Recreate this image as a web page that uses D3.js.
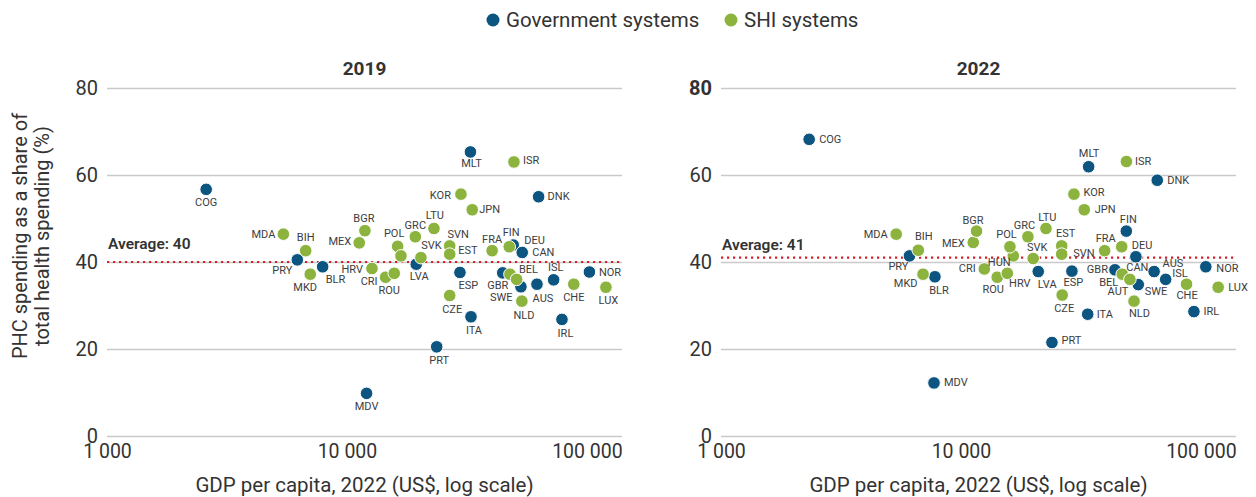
<!DOCTYPE html>
<html>
<head>
<meta charset="utf-8">
<script src="https://cdn.jsdelivr.net/npm/d3@7"></script>
<style>
  html, body { margin: 0; padding: 0; background: #ffffff; }
  svg { display: block; font-family: Roboto, "DejaVu Sans", sans-serif; }
</style>
</head>
<body>
<svg id="chart" width="1256" height="497"></svg>
<script>
// ---- Data: 2019 panel ----
const countries2019 = ["COG","MDA","BIH","PRY","BLR","MKD","MEX","BGR","MLT","ISR","KOR","DNK","JPN","LTU","GRC","POL","SVN","FIN","DEU","CAN","FRA","EST","SVK","HUN","LVA","HRV","CRI","ROU","ESP","CZE","ITA","PRT","MDV","GBR","BEL","AUT","SWE","NLD","AUS","ISL","CHE","NOR","LUX","IRL"];
const gdp2019 = [2590,5430,6730,6210,7920,7030,11250,11880,32700,49650,29850,62900,33260,23040,19270,16260,26800,49300,47450,53750,40260,26800,20330,16790,19440,12710,14490,15740,29570,26800,32870,23660,12070,44580,47790,50930,53080,53570,61910,72660,88140,102400,120000,78700];
const phc2019 = [56.7,46.4,42.6,40.5,38.9,37.2,44.4,47.2,65.3,63.0,55.6,55.0,52.0,47.7,45.8,43.6,43.7,43.9,43.5,42.2,42.6,41.8,41.0,41.4,39.5,38.5,36.5,37.4,37.6,32.3,27.4,20.5,9.8,37.5,37.2,36.0,34.3,31.0,34.9,35.9,34.9,37.7,34.2,26.8];
const system2019 = ["G","S","S","G","G","S","S","S","G","S","S","G","S","S","S","S","S","G","S","G","S","S","S","S","G","S","S","S","G","S","G","G","G","G","S","S","G","S","G","G","S","G","S","G"];
const average2019 = 40;

// ---- Data: 2022 panel ----
const countries2022 = ["COG","MDA","BIH","PRY","MKD","BLR","MEX","BGR","CRI","ROU","HRV","HUN","POL","LVA","SVK","ESP","CZE","ITA","PRT","EST","SVN","MLT","ISR","DNK","KOR","JPN","LTU","GRC","FIN","FRA","DEU","CAN","GBR","BEL","AUT","SWE","NLD","AUS","ISL","CHE","NOR","LUX","IRL","MDV"];
const gdp2022 = [2330,5370,6640,6100,6950,7790,11250,11610,12510,14160,15600,16520,16000,20990,20000,29000,26410,33740,23940,26290,26290,34040,48920,65770,29570,32640,22600,19010,48860,39700,46760,53570,43820,47000,50580,54810,52620,63810,71290,87100,104800,118000,93500,7720];
const phc2022 = [68.2,46.4,42.7,41.4,37.2,36.6,44.5,47.1,38.4,36.5,37.4,41.4,43.5,37.8,40.8,37.9,32.4,28.0,21.5,43.7,41.8,61.9,63.1,58.8,55.6,52.0,47.7,45.8,47.1,42.6,43.5,41.2,38.2,37.2,36.0,34.8,31.0,37.8,36.0,34.9,38.9,34.2,28.6,12.2];
const system2022 = ["G","S","S","G","S","G","S","S","S","S","S","S","S","G","S","G","S","G","G","S","S","G","S","G","S","S","S","S","G","S","S","G","G","S","S","G","S","G","G","S","G","S","G","G"];
const average2022 = 41;

// ---- Axes ----
const yTicks = [0, 20, 40, 60, 80];
const xTicks = [1000, 10000, 100000];
const xTickLabels = ["1 000", "10 000", "100 000"];
const legendLabels = ["Government systems", "SHI systems"];

// ---- Styling ----
const colors = { G: "#0c5581", S: "#8bb33d" };
const textColor = "#333333";

// Country label placement: [dx, dy, anchor] relative to the marker centre
const placement2019 = {
  COG:[0,13.5,"middle"], MDA:[-8,0,"end"], BIH:[0,-13,"middle"], PRY:[-5,10.5,"end"],
  BLR:[3,12.5,"start"], MKD:[-5,13.5,"middle"], MEX:[-8,-1.5,"end"], BGR:[-1,-12,"middle"],
  MLT:[1,12,"middle"], ISR:[9,-1,"start"], KOR:[-10,1,"end"], DNK:[9,0,"start"],
  JPN:[7,0,"start"], LTU:[1,-13,"middle"], GRC:[0,-11.5,"middle"], POL:[-3.5,-13,"middle"],
  SVN:[8.5,-11.5,"middle"], FIN:[-2,-12.5,"middle"], DEU:[15,-6.5,"start"], CAN:[10,0,"start"],
  FRA:[0,-11,"middle"], EST:[8.5,-3.5,"start"], SVK:[10.5,-12.5,"middle"], HUN:null,
  LVA:[3,12.5,"middle"], HRV:[-9,1,"end"], CRI:[-8,4.5,"end"], ROU:[-5,17.5,"middle"],
  ESP:[8.5,13.5,"middle"], CZE:[2.5,14,"middle"], ITA:[3,13.5,"middle"], PRT:[2.5,14,"middle"],
  MDV:[0,13.5,"middle"], GBR:[-5,12.5,"middle"], BEL:[9,-5,"start"], AUT:null,
  SWE:[-8.5,10.5,"end"], NLD:[2,14,"middle"], AUS:[6,14,"middle"], ISL:[2,-12.5,"middle"],
  CHE:[0,13,"middle"], NOR:[9.5,0,"start"], LUX:[2.5,13,"middle"], IRL:[3.5,14,"middle"]
};
const placement2022 = {
  COG:[10,0,"start"], MDA:[-8.5,0,"end"], BIH:[5.5,-13.5,"middle"], PRY:[-11,10.5,"middle"],
  MKD:[-5.5,9,"end"], BLR:[4,13.5,"middle"], MEX:[-8.5,1,"end"], BGR:[-3.5,-11,"middle"],
  CRI:[-8.5,-0.5,"end"], ROU:[-4,12,"middle"], HRV:[12.5,10,"middle"], HUN:[-14,7,"middle"],
  POL:[-3.5,-12.5,"middle"], LVA:[9,12.5,"middle"], SVK:[4,-11.5,"middle"], ESP:[1.5,11.5,"middle"],
  CZE:[2,13.5,"middle"], ITA:[9,0,"start"], PRT:[9.5,-2,"start"], EST:[4,-12.5,"middle"],
  SVN:[11.5,-1,"start"], MLT:[0.5,-13.5,"middle"], ISR:[8.5,0,"start"], DNK:[10,0.5,"start"],
  KOR:[9.5,-1.5,"start"], JPN:[10.5,-0.5,"start"], LTU:[1.5,-11.5,"middle"], GRC:[-3.5,-11.5,"middle"],
  FIN:[2,-12,"middle"], FRA:[1,-12.5,"middle"], DEU:[10,-1.5,"start"], CAN:[1.5,10.5,"middle"],
  GBR:[-7,0,"end"], BEL:[-4,8.5,"end"], AUT:[-1.5,12.5,"end"], SWE:[6.5,7,"start"],
  NLD:[5.5,12.5,"middle"], AUS:[8.5,-8.5,"start"], ISL:[6.5,-5.5,"start"], CHE:[0.5,11.5,"middle"],
  NOR:[10.5,1.5,"start"], LUX:[10,0,"start"], IRL:[9.5,0,"start"], MDV:[10,0,"start"]
};

const svg = d3.select("#chart");

// ---- Legend ----
const legend = svg.append("g").attr("transform", "translate(0,20)");
const legendItems = [
  { key: "G", label: legendLabels[0], x: 493 },
  { key: "S", label: legendLabels[1], x: 731 }
];
legendItems.forEach(item => {
  legend.append("circle").attr("cx", item.x).attr("cy", 0).attr("r", 6.5).attr("fill", colors[item.key]);
  legend.append("text").attr("x", item.x + 13).attr("y", 0)
    .attr("dominant-baseline", "central")
    .attr("font-size", 20.5).attr("fill", textColor).text(item.label);
});

// ---- Y axis title (shared) ----
const yTitle = svg.append("text")
  .attr("transform", "translate(29,236) rotate(-90)")
  .attr("text-anchor", "middle")
  .attr("font-size", 20).attr("fill", textColor);
yTitle.append("tspan").attr("x", 0).attr("dy", "-0.1em").text("PHC spending as a share of");
yTitle.append("tspan").attr("x", 0).attr("dy", "1.1em").text("total health spending (%)");

function drawPanel(cfg) {
  const x = d3.scaleLog().domain([1000, 140000]).range([cfg.x0, cfg.x1]);
  const y = d3.scaleLinear().domain([0, 80]).range([436, 88]);
  const g = svg.append("g");

  // grid lines + y labels
  const yAxis = d3.axisLeft(y).tickValues(yTicks).tickSize(-(cfg.x1 - cfg.x0)).tickPadding(9);
  const ya = g.append("g").attr("transform", `translate(${cfg.x0},0)`).call(yAxis);
  ya.select(".domain").remove();
  ya.selectAll(".tick line").attr("stroke", "#c9c9c9").attr("stroke-width", 1.5);
  ya.selectAll(".tick text").attr("font-size", 20).attr("fill", textColor)
    .attr("font-family", "Roboto, sans-serif")
    .attr("font-weight", d => (cfg.boldTop && d === 80) ? 700 : 400);

  // x labels
  const xAxis = d3.axisBottom(x).tickValues(xTicks).tickSize(0).tickPadding(0)
    .tickFormat((d, i) => xTickLabels[i]);
  const xa = g.append("g").attr("transform", "translate(0,444)").call(xAxis);
  xa.select(".domain").remove();
  xa.selectAll(".tick text").attr("font-size", 19.5).attr("fill", textColor)
    .attr("font-family", "Roboto, sans-serif").attr("dy", "0.71em");

  // panel title
  g.append("text").attr("x", (cfg.x0 + cfg.x1) / 2).attr("y", 68)
    .attr("text-anchor", "middle").attr("dominant-baseline", "central")
    .attr("font-size", 19).attr("font-weight", 700).attr("fill", textColor).text(cfg.title);

  // x axis title
  g.append("text").attr("x", (cfg.x0 + cfg.x1) / 2).attr("y", 484.5)
    .attr("text-anchor", "middle").attr("dominant-baseline", "central")
    .attr("font-size", 20.5).attr("fill", textColor).text("GDP per capita, 2022 (US$, log scale)");

  // average line
  g.append("line").attr("x1", cfg.x0).attr("x2", cfg.x1)
    .attr("y1", y(cfg.average)).attr("y2", y(cfg.average))
    .attr("stroke", "#d3202a").attr("stroke-width", 2.2)
    .attr("stroke-dasharray", "2.2 3.8");
  g.append("text").attr("x", cfg.x0 + 1).attr("y", y(cfg.average) - cfg.avgGap)
    .attr("font-size", 15.5).attr("font-weight", 600).attr("fill", textColor)
    .text(`Average: ${cfg.average}`);

  // points
  const data = cfg.countries.map((c, i) => ({
    code: c, gdp: cfg.gdp[i], phc: cfg.phc[i], sys: cfg.system[i]
  }));
  const ordered = data.filter(d => d.sys === "G").concat(data.filter(d => d.sys === "S"));
  g.append("g").selectAll("circle").data(ordered).join("circle")
    .attr("cx", d => x(d.gdp)).attr("cy", d => y(d.phc)).attr("r", 6.3)
    .attr("fill", d => colors[d.sys]).attr("stroke", "#ffffff").attr("stroke-width", 1);

  const labelled = data.filter(d => cfg.placement[d.code]);
  g.append("g").selectAll("text").data(labelled).join("text")
    .attr("x", d => x(d.gdp) + cfg.placement[d.code][0])
    .attr("y", d => y(d.phc) + cfg.placement[d.code][1])
    .attr("text-anchor", d => cfg.placement[d.code][2])
    .attr("dominant-baseline", "central")
    .attr("font-size", 11).attr("fill", "#3d3d3d").text(d => d.code);
}

drawPanel({ title: "2019", x0: 107, x1: 622, countries: countries2019, gdp: gdp2019,
  phc: phc2019, system: system2019, average: average2019, placement: placement2019,
  avgGap: 13, boldTop: false });
drawPanel({ title: "2022", x0: 721, x1: 1236, countries: countries2022, gdp: gdp2022,
  phc: phc2022, system: system2022, average: average2022, placement: placement2022,
  avgGap: 8, boldTop: true });
</script>
</body>
</html>
